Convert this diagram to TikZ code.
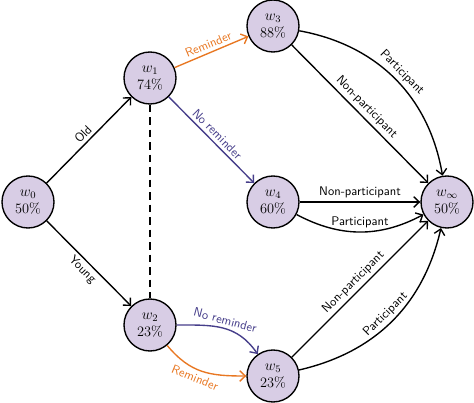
\documentclass[tikz,border=0pt]{standalone}
\usetikzlibrary{arrows.meta}
\definecolor{nodefill}{RGB}{216,205,229}
\definecolor{remorange}{RGB}{232,119,34}
\definecolor{remblue}{RGB}{70,62,138}
\begin{document}
\begin{tikzpicture}[x=0.8pt,y=0.8pt,
  state/.style={circle,draw,line width=1.1pt,fill=nodefill,minimum size=41.6pt,inner sep=0pt,align=center,font=\fontsize{11.5}{13.5}\selectfont},
  edge/.style={line width=1.1pt,-{Straight Barb[length=4.5pt,width=8.5pt]}},
  lab/.style={font=\sffamily,sloped,inner sep=2.5pt},
  orangeedge/.style={edge,draw=remorange},
  blueedge/.style={edge,draw=remblue},
  orangelab/.style={lab,text=remorange},
  bluelab/.style={lab,text=remblue}]
\useasboundingbox (0,0) rectangle (474,402);
\node[state] (w0) at (28,200) {$w_0$\\50\%};
\node[state] (w1) at (150,324) {$w_1$\\74\%};
\node[state] (w2) at (150,77) {$w_2$\\23\%};
\node[state] (w3) at (273,376) {$w_3$\\88\%};
\node[state] (w4) at (273,200) {$w_4$\\60\%};
\node[state] (w5) at (273,26) {$w_5$\\23\%};
\node[state] (winf) at (447,200) {$w_\infty$\\50\%};

\draw[edge] (w0) -- node[lab,above] {Old} (w1);
\draw[edge] (w0) -- node[lab,below] {Young} (w2);
\draw[line width=1.1pt,dash pattern=on 6pt off 4pt] (w1) -- (w2);
\draw[orangeedge] (w1) -- node[orangelab,above] {Reminder} (w3);
\draw[blueedge] (w1) -- node[bluelab,above] {No reminder} (w4);
\draw[blueedge] (w2) to[out=0,in=125,looseness=1.1] node[bluelab,above,pos=0.5] {No reminder} (w5);
\draw[orangeedge] (w2) to[out=-50,in=180,looseness=1.1] node[orangelab,below,pos=0.45] {Reminder} (w5);

\draw[edge] (w3) -- node[lab,above] {Non-participant} (winf);
\draw[edge] (w3) to[bend left=35] node[lab,above] {Participant} (winf);
\draw[edge] (w4) -- node[lab,above] {Non-participant} (winf);
\draw[edge] (w4) to[bend right=28] node[lab,above] {Participant} (winf);
\draw[edge] (w5) -- node[lab,above] {Non-participant} (winf);
\draw[edge] (w5) to[bend right=32] node[lab,above] {Participant} (winf);
\end{tikzpicture}
\end{document}
